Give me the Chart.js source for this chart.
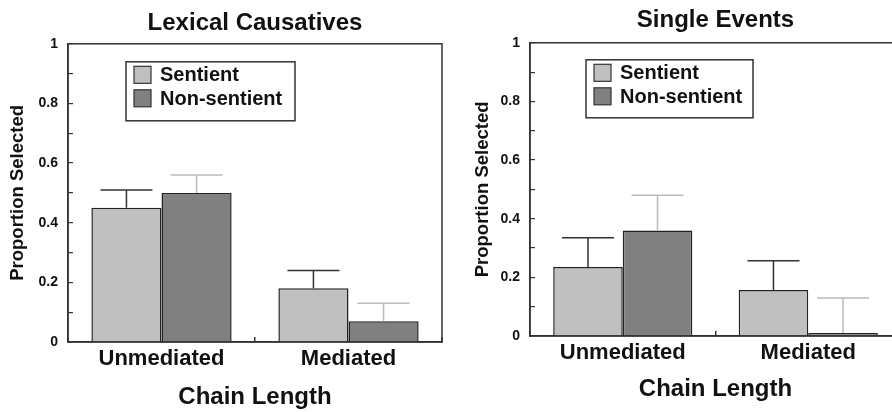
<!DOCTYPE html>
<html lang="en">
<head>
    <meta charset="UTF-8">
    <title>Chain Length</title>
    <script src="https://cdn.jsdelivr.net/npm/chart.js"></script>
    <style>
        body {
            margin: 0;
            background: #fff;
            overflow: hidden;
            width: 892px;
            height: 412px;
        }
        .panel {
            position: absolute;
            top: 0;
        }
    </style>
</head>
<body>
    <div class="panel" style="left:0px"><canvas id="lexicalChart" width="450" height="412"></canvas></div>
    <div class="panel" style="left:450px"><canvas id="singleChart" width="460" height="412"></canvas></div>

    <script>
        // dati
        var categories = ['Unmediated', 'Mediated'];
        var seriesNames = ['Sentient', 'Non-sentient'];
        var yTickLabels = ['0', '0.2', '0.4', '0.6', '0.8', '1'];

        var lexicalSentient = [0.45, 0.18];
        var lexicalNonSentient = [0.50, 0.07];
        var lexicalSentientErr = [0.06, 0.06];
        var lexicalNonSentientErr = [0.06, 0.06];

        var singleSentient = [0.235, 0.157];
        var singleNonSentient = [0.36, 0.01];
        var singleSentientErr = [0.10, 0.10];
        var singleNonSentientErr = [0.12, 0.12];

        var FONT = "'Liberation Sans', Arial, Helvetica, sans-serif";
        Chart.defaults.font.family = FONT;
        Chart.defaults.color = '#111';

        // cornice attorno all'area del grafico
        var framePlugin = {
            id: 'frame',
            afterDatasetsDraw: function(chart) {
                var ctx = chart.ctx, a = chart.chartArea;
                ctx.save();
                ctx.strokeStyle = '#333';
                ctx.lineWidth = 1.5;
                ctx.strokeRect(a.left, a.top, a.right - a.left, a.bottom - a.top);
                ctx.restore();
            }
        };

        // barre di errore (solo verso l'alto)
        var errorBarPlugin = {
            id: 'errorBars',
            afterDatasetsDraw: function(chart) {
                var ctx = chart.ctx, yScale = chart.scales.y;
                chart.data.datasets.forEach(function(ds, i) {
                    var meta = chart.getDatasetMeta(i);
                    meta.data.forEach(function(bar, j) {
                        var yTop = yScale.getPixelForValue(ds.data[j] + ds.errors[j]);
                        ctx.save();
                        ctx.strokeStyle = ds.errorColor;
                        ctx.lineWidth = 1.5;
                        ctx.beginPath();
                        ctx.moveTo(bar.x, bar.y);
                        ctx.lineTo(bar.x, yTop);
                        ctx.moveTo(bar.x - 26, yTop);
                        ctx.lineTo(bar.x + 26, yTop);
                        ctx.stroke();
                        ctx.restore();
                    });
                });
            }
        };

        // legenda con riquadro dentro l'area del grafico
        var boxLegendPlugin = {
            id: 'boxLegend',
            afterDraw: function(chart, args, opts) {
                var ctx = chart.ctx, a = chart.chartArea;
                var x = a.left + opts.dx, y = a.top + opts.dy;
                ctx.save();
                ctx.fillStyle = '#fff';
                ctx.fillRect(x, y, opts.width, opts.height);
                ctx.strokeStyle = '#333';
                ctx.lineWidth = 1.5;
                ctx.strokeRect(x, y, opts.width, opts.height);
                ctx.font = 'bold 20px ' + FONT;
                ctx.textBaseline = 'middle';
                chart.data.datasets.forEach(function(ds, i) {
                    var cy = y + 13 + i * 23.5;
                    ctx.fillStyle = ds.backgroundColor;
                    ctx.fillRect(x + 8, cy - 8.5, 17, 17);
                    ctx.strokeStyle = '#333';
                    ctx.lineWidth = 1.2;
                    ctx.strokeRect(x + 8, cy - 8.5, 17, 17);
                    ctx.fillStyle = '#111';
                    ctx.fillText(ds.label, x + 34, cy + 1);
                });
                ctx.restore();
            }
        };

        function drawChart(canvasId, title, sentient, nonSentient, errS, errN, lay) {
            var ctx = document.getElementById(canvasId).getContext('2d');
            return new Chart(ctx, {
                type: 'bar',
                data: {
                    labels: categories,
                    datasets: [{
                        label: seriesNames[0],
                        data: sentient,
                        errors: errS,
                        errorColor: '#333',
                        backgroundColor: '#c0c0c0',
                        borderColor: '#222',
                        borderWidth: 1.5
                    }, {
                        label: seriesNames[1],
                        data: nonSentient,
                        errors: errN,
                        errorColor: '#bbbbbb',
                        backgroundColor: '#808080',
                        borderColor: '#222',
                        borderWidth: 1.5
                    }]
                },
                options: {
                    responsive: false,
                    animation: false,
                    categoryPercentage: 0.75,
                    barPercentage: 1,
                    layout: { padding: lay.padding },
                    plugins: {
                        legend: { display: false },
                        tooltip: { enabled: false },
                        title: {
                            display: true,
                            fullSize: false,
                            text: title,
                            color: '#111',
                            font: { size: 24, weight: 'bold' },
                            padding: lay.titlePadding
                        },
                        boxLegend: lay.legend
                    },
                    scales: {
                        x: {
                            grid: { drawOnChartArea: false, tickLength: -5, color: '#333', lineWidth: 1.5, offset: true },
                            border: { color: '#333', width: 1.5 },
                            ticks: { padding: 9, color: '#111', font: { size: 22, weight: 'bold' } },
                            title: { display: true, text: 'Chain Length', color: '#111', font: { size: 24, weight: 'bold' }, padding: 0 },
                            afterFit: function(scale) { scale.height = lay.xHeight; }
                        },
                        y: {
                            min: 0,
                            max: 1,
                            ticks: {
                                stepSize: 0.1,
                                autoSkip: false,
                                padding: 15,
                                color: '#111',
                                font: { size: 14, weight: 'bold' },
                                callback: function(v, i) { return i % 2 === 0 ? yTickLabels[i / 2] : ''; }
                            },
                            grid: { drawOnChartArea: false, tickLength: -5, color: '#333', lineWidth: 1.2 },
                            border: { color: '#333', width: 1.5 },
                            title: { display: true, text: 'Proportion Selected', color: '#111', font: { size: 18.5, weight: 'bold' }, padding: { top: lay.yTitlePad, bottom: 0 } },
                            afterFit: function(scale) { scale.width = lay.yWidth; }
                        }
                    }
                },
                plugins: [framePlugin, errorBarPlugin, boxLegendPlugin]
            });
        }

        drawChart('lexicalChart', 'Lexical Causatives', lexicalSentient, lexicalNonSentient,
            lexicalSentientErr, lexicalNonSentientErr, {
                padding: { left: 0, right: 8, top: 0, bottom: 0 },
                titlePadding: { top: 9, bottom: 6 },
                xHeight: 70,
                yWidth: 68,
                yTitlePad: 7,
                legend: { dx: 58, dy: 18, width: 169, height: 59 }
            });

        drawChart('singleChart', 'Single Events', singleSentient, singleNonSentient,
            singleSentientErr, singleNonSentientErr, {
                padding: { left: 0, right: 9, top: 0, bottom: 8 },
                titlePadding: { top: 6, bottom: 8 },
                xHeight: 68,
                yWidth: 80,
                yTitlePad: 22,
                legend: { dx: 56, dy: 17, width: 167, height: 58 }
            });
    </script>
</body>
</html>
